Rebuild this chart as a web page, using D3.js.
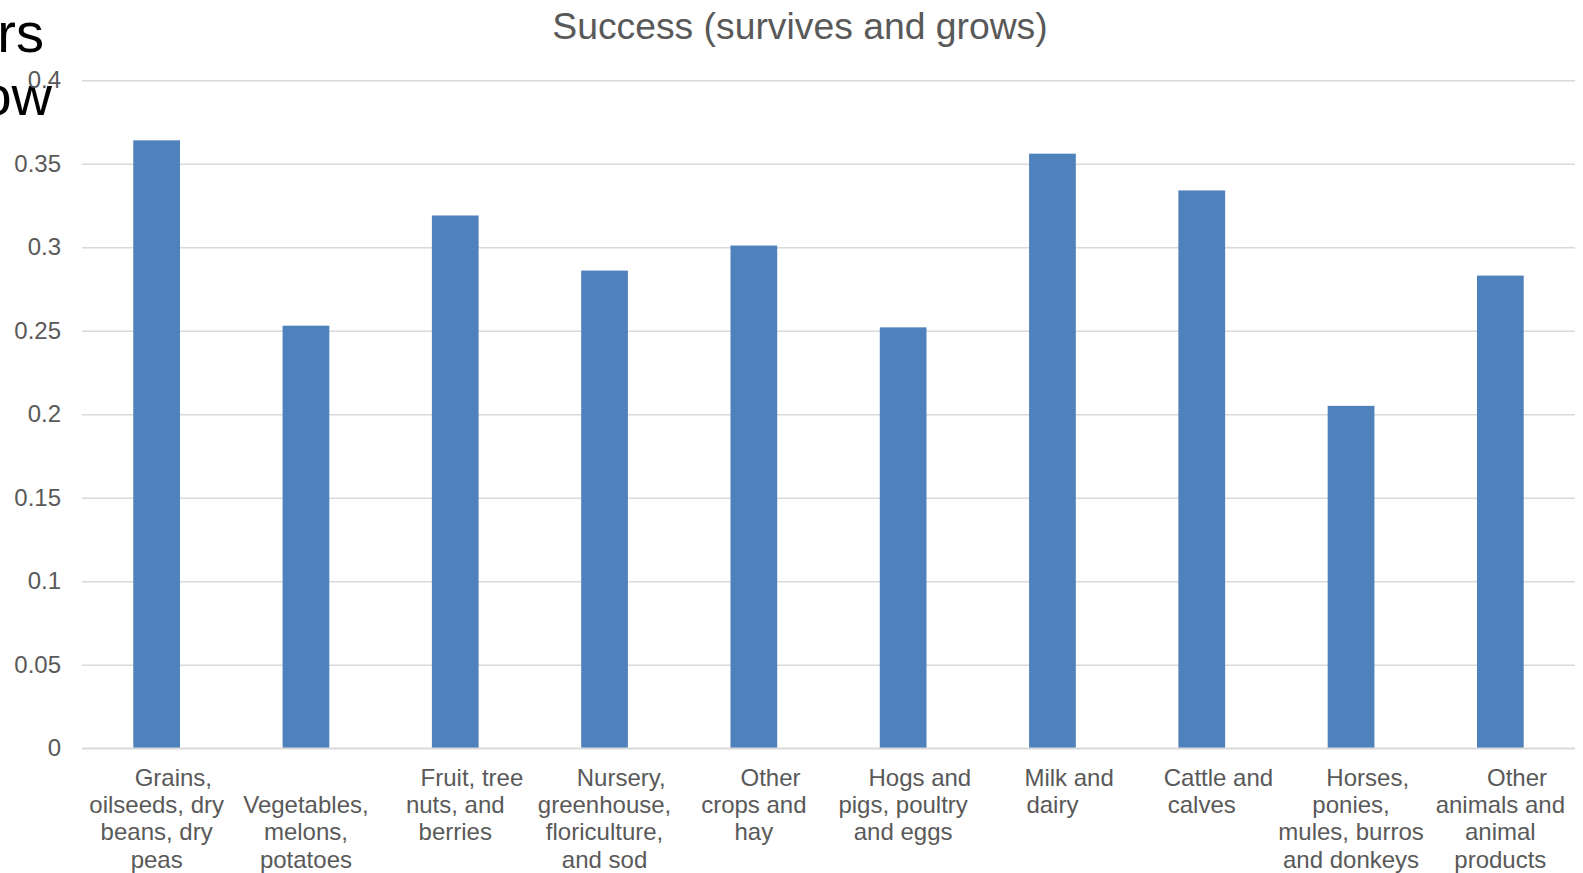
<!DOCTYPE html>
<html>
<head>
<meta charset="utf-8">
<script src="https://cdn.jsdelivr.net/npm/d3@7"></script>
<style>
  html, body { margin: 0; padding: 0; background: #ffffff; }
  svg { display: block; font-family: "Liberation Sans", Arial, sans-serif; }
  .xlab { white-space: pre; }
</style>
</head>
<body>
<svg id="chart" width="1583" height="873"></svg>
<script>
// ---- data ----
const title = "Success (survives and grows)";
const categories = [
  "Grains, oilseeds, dry beans, dry peas",
  "Vegetables, melons, potatoes",
  "Fruit, tree nuts, and berries",
  "Nursery, greenhouse, floriculture, and sod",
  "Other crops and hay",
  "Hogs and pigs, poultry and eggs",
  "Milk and dairy",
  "Cattle and calves",
  "Horses, ponies, mules, burros and donkeys",
  "Other animals and animal products"
];
const categoryLines = [
  ["     Grains,", "oilseeds, dry", "beans, dry", "peas"],
  ["     ", "Vegetables,", "melons,", "potatoes"],
  ["     Fruit, tree", "nuts, and", "berries"],
  ["     Nursery,", "greenhouse,", "floriculture,", "and sod"],
  ["     Other", "crops and", "hay"],
  ["     Hogs and", "pigs, poultry", "and eggs"],
  ["     Milk and", "dairy"],
  ["     Cattle and", "calves"],
  ["     Horses,", "ponies,", "mules, burros", "and donkeys"],
  ["     Other", "animals and", "animal", "products"]
];
const values = [0.364, 0.253, 0.319, 0.286, 0.301, 0.252, 0.356, 0.334, 0.205, 0.283];
const yTicks = [0, 0.05, 0.1, 0.15, 0.2, 0.25, 0.3, 0.35, 0.4];
const yTickLabels = ["0", "0.05", "0.1", "0.15", "0.2", "0.25", "0.3", "0.35", "0.4"];
const overflowText = ["rs", "ow"];

// ---- layout ----
const svg = d3.select("#chart");
const plot = { left: 82, right: 1575, top: 80.2, bottom: 748.2 };

// overflowing text box fragments (behind chart)
svg.selectAll("text.ovf")
  .data(overflowText)
  .join("text")
  .attr("class", "ovf")
  .attr("x", (d, i) => i === 0 ? 44 : 52)
  .attr("y", (d, i) => i === 0 ? 52 : 115)
  .attr("text-anchor", "end")
  .attr("font-size", 56)
  .attr("fill", "#000000")
  .text(d => d);

const x = d3.scaleBand()
  .domain(categories)
  .range([plot.left, plot.right])
  .paddingInner(0.687)
  .paddingOuter(0.3435);

const y = d3.scaleLinear()
  .domain([0, 0.4])
  .range([plot.bottom, plot.top]);

// gridlines
const yAxis = d3.axisLeft(y)
  .tickValues(yTicks)
  .tickFormat((d, i) => yTickLabels[i])
  .tickSize(-(plot.right - plot.left))
  .tickPadding(21);

const gy = svg.append("g")
  .attr("transform", `translate(${plot.left},0)`)
  .call(yAxis);
gy.select(".domain").remove();
gy.selectAll(".tick line")
  .attr("stroke", "#d9d9d9")
  .attr("stroke-width", 1.6);
gy.selectAll(".tick text")
  .attr("fill", "#595959")
  .attr("font-size", 24)
  .attr("font-family", "Liberation Sans, Arial, sans-serif");

// bars
svg.append("g")
  .selectAll("rect")
  .data(values)
  .join("rect")
  .attr("x", (d, i) => x(categories[i]))
  .attr("width", x.bandwidth())
  .attr("y", d => y(d))
  .attr("height", d => y(0) - y(d))
  .attr("fill", "#4f81bd");

// baseline
svg.append("line")
  .attr("x1", plot.left).attr("x2", plot.right)
  .attr("y1", y(0)).attr("y2", y(0))
  .attr("stroke", "#d9d9d9").attr("stroke-width", 1.6);

// x labels
const gx = svg.append("g");
categories.forEach((c, i) => {
  const cx = x(c) + x.bandwidth() / 2;
  const t = gx.append("text")
    .attr("class", "xlab")
    .attr("text-anchor", "middle")
    .attr("font-size", 24)
    .attr("fill", "#595959");
  categoryLines[i].forEach((line, j) => {
    t.append("tspan")
      .attr("x", cx)
      .attr("y", 786 + j * 27.2)
      .text(line);
  });
});

// title
svg.append("text")
  .attr("x", 800)
  .attr("y", 39)
  .attr("text-anchor", "middle")
  .attr("font-size", 37.3)
  .attr("fill", "#595959")
  .text(title);
</script>
</body>
</html>
